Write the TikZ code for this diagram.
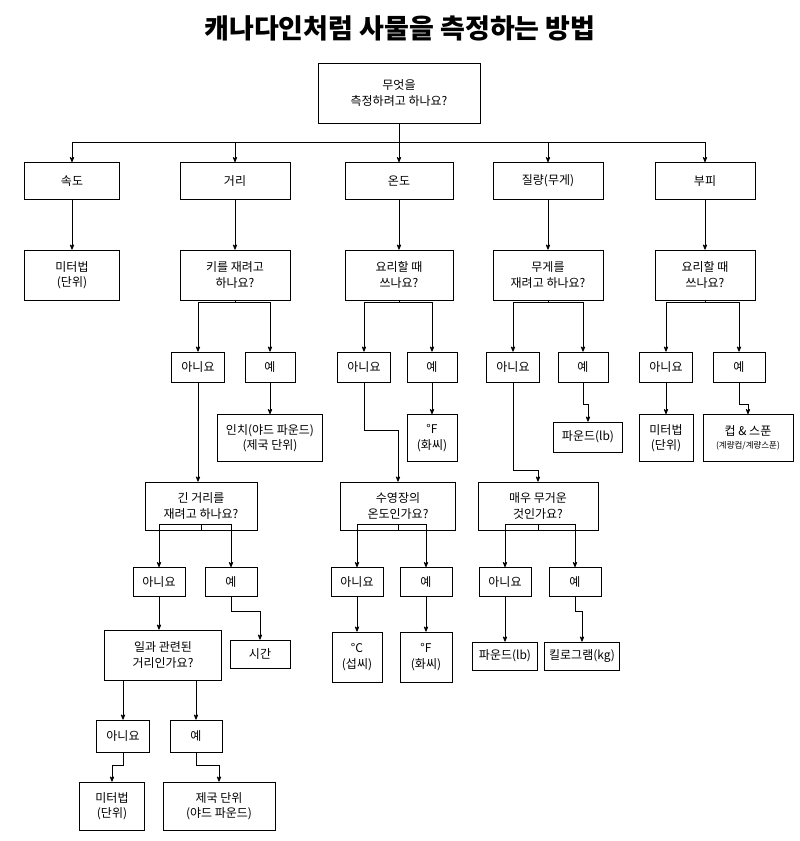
\documentclass[tikz,border=0pt]{standalone}
\usepackage{fontspec}
\setmainfont{Noto Sans CJK KR}
\usetikzlibrary{arrows}

\begin{document}
\begin{tikzpicture}[->,>=stealth',x=1pt,y=-1pt,
    box/.style={rectangle, draw, thick, align=center,
        font=\fontsize{12}{15.5}\selectfont, inner sep=1pt},
    wire/.style={-, thick},
    arr/.style={->, thick}]

    \useasboundingbox (0,0) rectangle (800,841);

    \node[font=\fontsize{27}{32}\bfseries] (title) at (400,28) {캐나다인처럼 사물을 측정하는 방법};

    % first question
    \node[box, minimum width=162, minimum height=60] (what) at (399,93) {무엇을\\측정하려고 하나요?};

    \node[box, minimum width=95, minimum height=37] (speed) at (72,181) {속도};
    \node[box, minimum width=110, minimum height=37] (dist) at (235,181) {거리};
    \node[box, minimum width=108, minimum height=37] (temp) at (399,181) {온도};
    \node[box, minimum width=110, minimum height=37] (mass) at (548,181) {질량(무게)};
    \node[box, minimum width=100, minimum height=37] (vol) at (705,181) {부피};

    \node[box, minimum width=95, minimum height=50] (speedm) at (72,275) {미터법\\(단위)};
    \node[box, minimum width=110, minimum height=50] (height) at (235,275) {키를 재려고\\하나요?};
    \node[box, minimum width=108, minimum height=50] (cook) at (399,275) {요리할 때\\쓰나요?};
    \node[box, minimum width=110, minimum height=50] (weigh) at (548,275) {무게를\\재려고 하나요?};
    \node[box, minimum width=100, minimum height=50] (vcook) at (705,275) {요리할 때\\쓰나요?};

    % yes / no row
    \node[box, minimum width=53, minimum height=30] (hno) at (198,367) {아니요};
    \node[box, minimum width=50, minimum height=30] (hyes) at (270,367) {예};
    \node[box, minimum width=53, minimum height=30] (cno) at (364,367) {아니요};
    \node[box, minimum width=50, minimum height=30] (cyes) at (432,367) {예};
    \node[box, minimum width=53, minimum height=30] (wno) at (513,367) {아니요};
    \node[box, minimum width=50, minimum height=30] (wyes) at (583,367) {예};
    \node[box, minimum width=53, minimum height=30] (vno) at (666,367) {아니요};
    \node[box, minimum width=52, minimum height=30] (vyes) at (739,367) {예};

    \node[box, minimum width=105, minimum height=47] (inch) at (270,438) {인치(야드 파운드)\\(제국 단위)};
    \node[box, minimum width=50, minimum height=47] (fah1) at (432,438) {°F\\(화씨)};
    \node[box, minimum width=69, minimum height=30] (lb1) at (588,437) {파운드(lb)};
    \node[box, minimum width=54, minimum height=47] (vmet) at (666,438) {미터법\\(단위)};
    \node[box, minimum width=90, minimum height=47, font=\fontsize{12}{13}\selectfont] (cup) at (748,438) {컵 \& 스푼\\{\fontsize{8.5}{11}\selectfont(계량컵/계량스푼)}};

    \node[box, minimum width=112, minimum height=48] (long) at (201,506) {긴 거리를\\재려고 하나요?};
    \node[box, minimum width=115, minimum height=48] (pool) at (398,506) {수영장의\\온도인가요?};
    \node[box, minimum width=120, minimum height=48] (heavy) at (538,506) {매우 무거운\\것인가요?};

    \node[box, minimum width=52, minimum height=29] (lno) at (159,582) {아니요};
    \node[box, minimum width=52, minimum height=29] (lyes) at (231,582) {예};
    \node[box, minimum width=52, minimum height=29] (pno) at (357,582) {아니요};
    \node[box, minimum width=52, minimum height=29] (pyes) at (426,582) {예};
    \node[box, minimum width=52, minimum height=29] (yno) at (505,582) {아니요};
    \node[box, minimum width=52, minimum height=29] (yyes) at (575,582) {예};

    \node[box, minimum width=117, minimum height=50] (work) at (163,655) {일과 관련된\\거리인가요?};
    \node[box, minimum width=60, minimum height=28] (time) at (260,654) {시간};
    \node[box, minimum width=50, minimum height=50] (cel) at (357,657) {°C\\(섭씨)};
    \node[box, minimum width=52, minimum height=50] (fah2) at (426,657) {°F\\(화씨)};
    \node[box, minimum width=65, minimum height=28] (lb2) at (505,656) {파운드(lb)};
    \node[box, minimum width=75, minimum height=28] (kg) at (582,656) {킬로그램(kg)};

    \node[box, minimum width=53, minimum height=32] (kno) at (123,736) {아니요};
    \node[box, minimum width=52, minimum height=32] (kyes) at (196,736) {예};

    \node[box, minimum width=65, minimum height=48] (met) at (112,806) {미터법\\(단위)};
    \node[box, minimum width=112, minimum height=48] (imp) at (219,806) {제국 단위\\(야드 파운드)};

    % connectors
    \draw[wire] (what) -- (what |- 0,142) coordinate (s0);
    \draw[wire] (speed |- s0) -- (vol |- s0);
    \foreach \n in {speed,dist,temp,mass,vol}
        \draw[arr] (\n |- s0) -- (\n);
    \draw[arr] (speed) -- (speedm);
    \draw[arr] (dist) -- (height);
    \draw[arr] (temp) -- (cook);
    \draw[arr] (mass) -- (weigh);
    \draw[arr] (vol) -- (vcook);

    \draw[wire] (height) -- ++(0,27) coordinate (s1);
    \draw[arr] (s1) -| (hno);
    \draw[arr] (s1) -| (hyes);
    \draw[wire] (cook) -- ++(0,27) coordinate (s2);
    \draw[arr] (s2) -| (cno);
    \draw[arr] (s2) -| (cyes);
    \draw[wire] (weigh) -- ++(0,27) coordinate (s3);
    \draw[arr] (s3) -| (wno);
    \draw[arr] (s3) -| (wyes);
    \draw[wire] (vcook) -- ++(0,27) coordinate (s4);
    \draw[arr] (s4) -| (vno);
    \draw[arr] (s4) -| (vyes);

    \draw[arr] (hyes) -- (inch);
    \draw[arr] (cyes) -- (fah1);
    \draw[arr] (wyes.south) -- ++(0,22) -| (lb1);
    \draw[arr] (vno) -- (vmet);
    \draw[arr] (vyes.south) -- ++(0,22) -| (cup);
    \draw[arr] (hno.south) -- (hno.south |- long.north);
    \draw[arr] (cno.south) -- ++(0,48) -| (pool);
    \draw[arr] (wno.south) -- ++(0,88) -| (heavy);

    \draw[wire] (long) -- ++(0,18) coordinate (s5);
    \draw[arr] (s5) -| (lno);
    \draw[arr] (s5) -| (lyes);
    \draw[wire] (pool) -- ++(0,18) coordinate (s6);
    \draw[arr] (s6) -| (pno);
    \draw[arr] (s6) -| (pyes);
    \draw[wire] (heavy) -- ++(0,18) coordinate (s7);
    \draw[arr] (s7) -| (yno);
    \draw[arr] (s7) -| (yyes);

    \draw[arr] (lno.south) -- (lno.south |- work.north);
    \draw[arr] (lyes.south) -- ++(0,14) -| (time);
    \draw[arr] (pno) -- (cel);
    \draw[arr] (pyes) -- (fah2);
    \draw[arr] (yno) -- (lb2);
    \draw[arr] (yyes.south) -- ++(0,14) -| (kg);

    \draw[wire] (work) -- ++(0,25) coordinate (s8);
    \draw[arr] (s8) -| (kno);
    \draw[arr] (s8) -| (kyes);
    \draw[arr] (kno.south) -- ++(0,13) -| (met);
    \draw[arr] (kyes.south) -- ++(0,13) -| (imp);

\end{tikzpicture}
\end{document}
